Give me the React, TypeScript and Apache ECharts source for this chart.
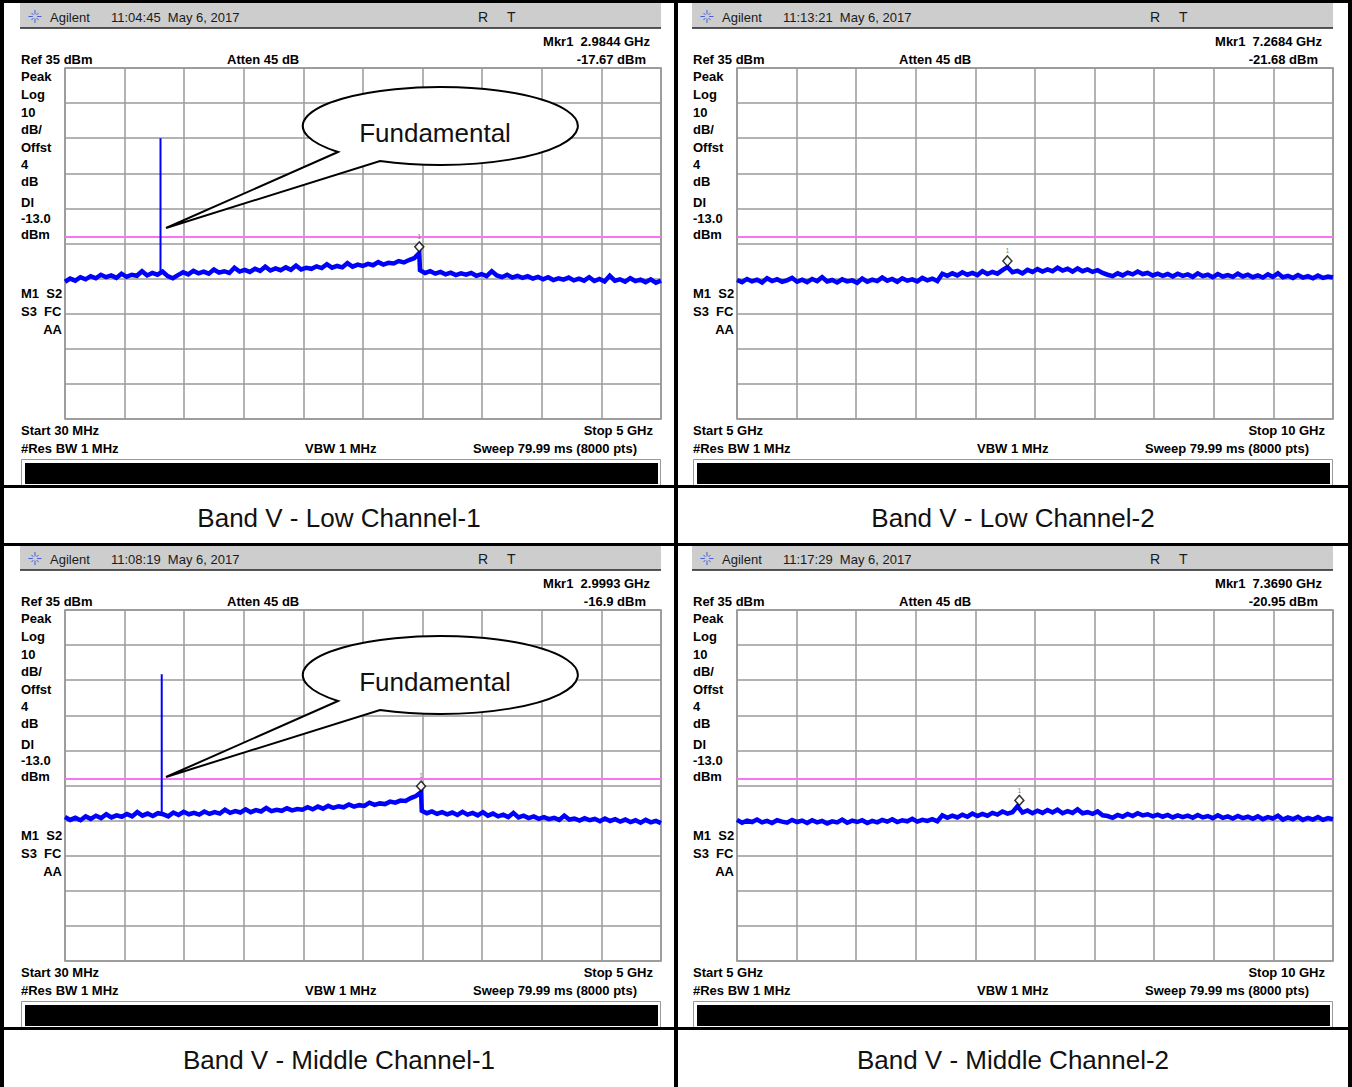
import React, { useEffect, useRef } from "react";
import * as echarts from "echarts";

// ---------- DATA (dBm) ----------
// Band V Low Channel-1 (30 MHz - 5 GHz): trace up to marker, then after marker
const lowCh1Below = [
  -25.9, -25.0, -25.6, -24.6, -25.2, -24.3, -24.9, -23.9, -24.6, -24.1,
  -24.8, -23.6, -24.5, -23.9, -24.2, -22.9, -24.1, -23.4, -23.9, -23.0,
  -24.3, -24.9, -24.0, -23.2, -23.8, -22.8, -23.5, -23.0, -23.6, -22.4,
  -23.3, -22.9, -23.4, -21.9, -23.0, -22.5, -23.1, -22.2, -22.8, -21.6,
  -22.7, -22.1, -22.6, -21.8, -22.5, -21.3, -22.4, -21.9, -22.2, -21.5,
  -22.0, -20.9, -21.9, -21.4, -21.8, -20.6, -21.6, -21.0, -21.4, -20.8,
  -21.2, -20.3, -21.0, -20.5, -20.7, -20.0, -20.4, -19.7, -19.2, -17.7,
];
const lowCh1Above = [
  -22.6, -23.4, -22.9, -23.6, -23.1, -23.8, -23.3, -24.0, -23.5, -23.9,
  -23.4, -24.2, -23.7, -24.3, -22.9, -24.1, -24.6, -23.9, -24.7, -24.2,
  -24.8, -24.3, -25.0, -24.5, -25.2, -24.6, -25.4, -24.9, -25.3, -24.7,
  -25.5, -25.0, -25.6, -24.6, -25.7, -25.1, -25.8, -24.2, -25.6, -25.2,
  -25.9, -24.9, -25.7, -25.3, -26.0, -25.2, -26.2, -25.6,
];
// Band V Low Channel-2 (5 - 10 GHz)
const lowCh2Trace = [
  -25.4, -26.0, -25.1, -25.8, -25.3, -26.1, -24.9, -25.7, -25.2, -25.9,
  -25.5, -24.8, -25.9, -25.3, -26.0, -25.1, -25.7, -24.6, -25.8, -25.4,
  -26.1, -25.2, -25.8, -25.5, -26.2, -25.0, -25.9, -25.3, -25.7, -24.7,
  -25.6, -25.1, -25.9, -24.9, -25.6, -25.2, -25.8, -24.8, -25.5, -25.0,
  -25.7, -23.6, -24.2, -23.5, -24.1, -23.2, -23.9, -23.4, -24.0, -22.9,
  -23.7, -23.1, -23.6, -22.6, -21.7, -23.2, -22.8, -23.5, -22.5, -23.1,
  -22.3, -23.0, -22.4, -22.9, -21.9, -22.7, -22.2, -23.0, -22.1, -22.9,
  -22.4, -23.1, -22.6, -23.4, -23.9, -24.3, -23.5, -24.1, -23.3, -23.8,
  -23.0, -23.7, -23.4, -24.1, -23.6, -24.2, -23.7, -24.4, -23.6, -24.2,
  -23.8, -24.5, -23.5, -24.3, -23.9, -24.6, -23.7, -24.4, -24.0, -24.5,
  -23.6, -24.4, -23.9, -24.6, -24.1, -24.7, -23.8, -24.5, -23.5, -24.6,
  -24.2, -24.8, -24.0, -24.7, -24.3, -24.9, -24.1, -24.8, -24.4, -24.7,
];
// Band V Middle Channel-1 (30 MHz - 5 GHz)
const midCh1Below = [
  -24.0, -24.8, -24.2, -24.9, -23.8, -24.5, -23.6, -24.3, -23.2, -24.1,
  -23.5, -23.9, -23.1, -23.8, -22.6, -23.6, -23.0, -23.7, -22.9, -23.2,
  -23.8, -22.7, -23.4, -22.5, -23.2, -22.8, -23.3, -22.4, -23.1, -22.6,
  -23.0, -21.9, -22.8, -22.3, -22.7, -21.8, -22.6, -22.0, -22.4, -21.4,
  -22.3, -21.9, -22.2, -21.5, -22.1, -21.7, -21.9, -21.2, -21.8, -21.0,
  -21.6, -20.8, -21.4, -20.9, -21.2, -20.4, -21.0, -20.6, -20.8, -19.9,
  -20.5, -20.1, -20.3, -19.6, -19.9, -19.3, -19.4, -18.6, -18.0, -16.9,
];
const midCh1Above = [
  -22.2, -22.9, -22.4, -23.1, -22.6, -23.2, -22.7, -23.4, -22.5, -23.3,
  -22.8, -23.5, -22.6, -23.6, -23.0, -23.8, -23.3, -24.0, -22.8, -24.1,
  -23.6, -24.3, -23.8, -24.5, -24.0, -24.6, -24.2, -24.8, -23.6, -24.7,
  -24.4, -25.0, -24.3, -24.9, -24.5, -25.2, -24.4, -25.1, -24.6, -25.3,
  -24.7, -25.4, -24.9, -25.6, -24.8, -25.5, -25.1, -25.7,
];
// Band V Middle Channel-2 (5 - 10 GHz)
const midCh2Trace = [
  -24.8, -25.6, -25.0, -25.4, -24.7, -25.5, -25.1, -25.7, -24.9, -25.3,
  -25.6, -24.8, -25.4, -25.0, -25.7, -24.9, -25.5, -25.1, -25.8, -25.2,
  -25.5, -24.7, -25.6, -25.0, -25.4, -24.9, -25.7, -25.1, -25.5, -24.8,
  -25.3, -24.6, -25.4, -24.9, -25.2, -24.5, -25.3, -24.8, -25.1, -24.6,
  -25.2, -23.5, -24.2, -23.6, -24.1, -23.3, -23.9, -23.0, -23.7, -23.1,
  -23.6, -22.8, -23.3, -22.4, -23.0, -22.6, -20.9, -22.7, -22.1, -22.9,
  -22.2, -22.8, -22.0, -22.7, -21.9, -22.9, -22.3, -22.8, -21.8, -22.9,
  -22.6, -23.1, -22.4, -23.5, -23.7, -24.2, -23.4, -23.9, -23.1, -23.7,
  -22.9, -23.5, -23.2, -23.8, -23.3, -23.9, -23.4, -24.1, -23.5, -24.0,
  -23.6, -24.2, -23.4, -24.1, -23.7, -24.3, -23.5, -24.2, -23.8, -24.4,
  -23.7, -24.3, -23.9, -24.5, -23.8, -24.6, -24.0, -24.4, -23.6, -24.7,
  -24.1, -24.6, -23.9, -24.8, -24.2, -24.7, -24.0, -24.8, -24.3, -24.6,
];

const spanStart = [30, 5000, 30, 5000]; // MHz
const spanStop = [5000, 10000, 5000, 10000]; // MHz
const markerFreqs = [2984.4, 7268.4, 2999.3, 7369.0]; // MHz
const markerLevels = [-17.67, -21.68, -16.9, -20.95]; // dBm
const afterMarkerFreqs = [2990, 0, 3005, 0]; // first sample after marker step
const fundamentalFreqs = [826.4, 0, 836.6, 0]; // MHz
const fundamentalBase = [-23.0, 0, -22.9, 0];
const fundamentalPeak = [15.0, 0, 16.7, 0];
const refLevel = 35;
const dbPerDiv = 10;
const displayLine = -13;

const timestamps = ["11:04:45  May 6, 2017", "11:13:21  May 6, 2017", "11:08:19  May 6, 2017", "11:17:29  May 6, 2017"];
const markerFreqLabels = ["Mkr1  2.9844 GHz", "Mkr1  7.2684 GHz", "Mkr1  2.9993 GHz", "Mkr1  7.3690 GHz"];
const markerLevelLabels = ["-17.67 dBm", "-21.68 dBm", "-16.9 dBm", "-20.95 dBm"];
const startLabels = ["Start 30 MHz", "Start 5 GHz", "Start 30 MHz", "Start 5 GHz"];
const stopLabels = ["Stop 5 GHz", "Stop 10 GHz", "Stop 5 GHz", "Stop 10 GHz"];
const captions = ["Band V - Low Channel-1", "Band V - Low Channel-2", "Band V - Middle Channel-1", "Band V - Middle Channel-2"];
const sideLabels = ["Peak", "Log", "10", "dB/", "Offst", "4", "dB", "Dl", "-13.0", "dBm"];

// ---------- LAYOUT ----------
const W = 1352;
const H = 1087;
const panelOX = [0, 672, 0, 672];
const panelOY = [0, 0, 542, 542];
const PLOT_L = 65, PLOT_T = 68, PLOT_W = 596, PLOT_H = 351;
const FONT = '"Liberation Sans", Arial, sans-serif';

function spread(values: number[], f0: number, f1: number): number[][] {
  const n = values.length - 1;
  return values.map((v, i) => [f0 + (i * (f1 - f0)) / n, v]);
}

const traces: number[][][] = [
  [...spread(lowCh1Below, spanStart[0], markerFreqs[0]), ...spread(lowCh1Above, afterMarkerFreqs[0], spanStop[0])],
  spread(lowCh2Trace, spanStart[1], spanStop[1]),
  [...spread(midCh1Below, spanStart[2], markerFreqs[2]), ...spread(midCh1Above, afterMarkerFreqs[2], spanStop[2])],
  spread(midCh2Trace, spanStart[3], spanStop[3]),
];

const CALLOUT_D = "M338 152 L166 228 L380 161 A137.5 39 0 1 0 338 152 Z";
let registered = false;
function ensureShape() {
  if (registered) return;
  registered = true;
  echarts.graphic.registerShape("callout", echarts.graphic.extendPath(CALLOUT_D, {}) as any);
}

function txt(x: number, y: number, text: string, font: string, align = "left", fill = "#000", z = 10): any {
  return { type: "text", x, y, z, style: { text, font, fill, textAlign: align, textVerticalAlign: "middle" } };
}

function panelGraphics(g: number): any[] {
  const ox = panelOX[g];
  const oy = panelOY[g];
  const els: any[] = [];
  const bold = `bold 13px ${FONT}`;
  const reg = `13px ${FONT}`;
  // header bar
  els.push({ type: "rect", shape: { x: ox + 20, y: oy + 3, width: 641, height: 25 }, style: { fill: "#cdcdcd" }, z: 1 });
  els.push({ type: "line", shape: { x1: ox + 20, y1: oy + 28, x2: ox + 661, y2: oy + 28 }, style: { stroke: "#222", lineWidth: 1.5 }, z: 2 });
  // agilent spark logo
  const cx = ox + 35, cy = oy + 16.5;
  for (let k = 0; k < 8; k++) {
    const a = (k * Math.PI) / 4;
    const r1 = 2.2, r2 = k % 2 === 0 ? 6.5 : 5;
    els.push({
      type: "line",
      shape: { x1: cx + r1 * Math.cos(a), y1: cy + r1 * Math.sin(a), x2: cx + r2 * Math.cos(a), y2: cy + r2 * Math.sin(a) },
      style: { stroke: "#3d5fe0", lineWidth: 1 },
      z: 3,
    });
  }
  els.push(txt(ox + 50, oy + 17, "Agilent", reg, "left", "#1a1a1a"));
  els.push(txt(ox + 111, oy + 17, timestamps[g], reg, "left", "#1a1a1a"));
  els.push(txt(ox + 478, oy + 17, "R", `14px ${FONT}`, "left", "#1a1a1a"));
  els.push(txt(ox + 507, oy + 17, "T", `14px ${FONT}`, "left", "#1a1a1a"));
  // top info
  els.push(txt(ox + 650, oy + 41, markerFreqLabels[g], bold, "right"));
  els.push(txt(ox + 21, oy + 59, "Ref 35 dBm", bold));
  els.push(txt(ox + 227, oy + 59, "Atten 45 dB", bold));
  els.push(txt(ox + 646, oy + 59, markerLevelLabels[g], bold, "right"));
  // side labels
  const sideY = [76, 94, 112, 129, 147, 164, 181, 202, 218, 234];
  sideLabels.forEach((s, i) => els.push(txt(ox + 21, oy + sideY[i], s, bold)));
  els.push(txt(ox + 21, oy + 293, "M1  S2", bold));
  els.push(txt(ox + 21, oy + 311, "S3  FC", bold));
  els.push(txt(ox + 62, oy + 329, "AA", bold, "right"));
  // bottom info
  els.push(txt(ox + 21, oy + 430, startLabels[g], bold));
  els.push(txt(ox + 653, oy + 430, stopLabels[g], bold, "right"));
  els.push(txt(ox + 21, oy + 448, "#Res BW 1 MHz", bold));
  els.push(txt(ox + 305, oy + 448, "VBW 1 MHz", bold));
  els.push(txt(ox + 637, oy + 448, "Sweep 79.99 ms (8000 pts)", bold, "right"));
  // status bar
  els.push({ type: "rect", shape: { x: ox + 21.5, y: oy + 459.5, width: 639, height: 26 }, style: { fill: "#fff", stroke: "#999", lineWidth: 1 }, z: 1 });
  els.push({ type: "rect", shape: { x: ox + 25, y: oy + 463, width: 633, height: 21 }, style: { fill: "#000" }, z: 2 });
  // caption
  const capX = g % 2 === 0 ? 339 : 1013;
  const capY = g < 2 ? 518 : 1060;
  els.push(txt(capX, capY, captions[g], `26px ${FONT}`, "center", "#111"));
  // callout
  if (fundamentalFreqs[g] > 0) {
    const dy = g === 0 ? 0 : 549;
    els.push({ type: "callout", x: ox, y: dy, style: { fill: "#fff", stroke: "#000", lineWidth: 2 }, z: 50 });
    els.push(txt(ox + 435, dy + 133, "Fundamental", `26px ${FONT}`, "center", "#111", 51));
  }
  return els;
}

function borderGraphics(): any[] {
  const rects = [
    [0, 0, W, 3],
    [0, 0, 4, H],
    [W - 4, 0, 4, H],
    [674, 0, 4, H],
    [0, 485, W, 3],
    [0, 543, W, 3],
    [0, 1027, W, 3],
  ];
  return rects.map(([x, y, w, h]) => ({ type: "rect", shape: { x, y, width: w, height: h }, style: { fill: "#000" }, z: 60 }));
}

function buildOption(): any {
  const grid: any[] = [];
  const xAxis: any[] = [];
  const yAxis: any[] = [];
  const series: any[] = [];
  const gridLine = { show: true, lineStyle: { color: "#9a9a9a", width: 1.5 } };
  for (let g = 0; g < 4; g++) {
    grid.push({
      left: panelOX[g] + PLOT_L,
      top: panelOY[g] + PLOT_T,
      width: PLOT_W,
      height: PLOT_H,
      show: true,
      borderColor: "#8a8a8a",
      borderWidth: 1.5,
      backgroundColor: "transparent",
    });
    xAxis.push({ gridIndex: g, type: "value", min: 0, max: 10, interval: 1, axisLine: { show: false }, axisTick: { show: false }, axisLabel: { show: false }, splitLine: gridLine });
    xAxis.push({ gridIndex: g, type: "value", min: spanStart[g], max: spanStop[g], show: false });
    yAxis.push({ gridIndex: g, type: "value", min: 0, max: 10, interval: 1, axisLine: { show: false }, axisTick: { show: false }, axisLabel: { show: false }, splitLine: gridLine });
    yAxis.push({ gridIndex: g, type: "value", min: refLevel - 10 * dbPerDiv, max: refLevel, show: false });
    const xi = 2 * g + 1;
    series.push({
      type: "line",
      xAxisIndex: xi,
      yAxisIndex: xi,
      data: traces[g],
      showSymbol: false,
      symbol: "none",
      lineStyle: { color: "#0000ff", width: 4.5, join: "miter" },
      z: 3,
      markLine: {
        silent: true,
        symbol: "none",
        label: { show: false },
        lineStyle: { color: "#f774f7", width: 2, type: "solid" },
        data: [{ yAxis: displayLine }],
        z: 2,
      },
    });
    if (fundamentalFreqs[g] > 0) {
      series.push({
        type: "line",
        xAxisIndex: xi,
        yAxisIndex: xi,
        data: [
          [fundamentalFreqs[g], fundamentalBase[g]],
          [fundamentalFreqs[g], fundamentalPeak[g]],
        ],
        showSymbol: false,
        symbol: "none",
        lineStyle: { color: "#0000ff", width: 2 },
        z: 4,
      });
    }
    series.push({
      type: "scatter",
      xAxisIndex: xi,
      yAxisIndex: xi,
      data: [[markerFreqs[g], markerLevels[g]]],
      symbol: "diamond",
      symbolSize: [9, 10],
      symbolOffset: [0, -6],
      itemStyle: { color: "#fff", borderColor: "#000", borderWidth: 1.5 },
      label: { show: true, formatter: "1", position: "top", distance: 1, fontSize: 7, color: "#666", fontFamily: FONT },
      z: 5,
    });
  }
  let graphics: any[] = [];
  for (let g = 0; g < 4; g++) graphics = graphics.concat(panelGraphics(g));
  graphics = graphics.concat(borderGraphics());
  return {
    animation: false,
    backgroundColor: "#fff",
    grid,
    xAxis,
    yAxis,
    series,
    graphic: { elements: graphics },
  };
}

export default function App() {
  const ref = useRef<HTMLDivElement>(null);
  useEffect(() => {
    if (!ref.current) return;
    ensureShape();
    const chart = echarts.init(ref.current, null, { renderer: "svg" });
    chart.setOption(buildOption());
    return () => chart.dispose();
  }, []);
  return <div ref={ref} style={{ position: "absolute", left: 0, top: 0, width: W, height: H, background: "#fff" }} />;
}
